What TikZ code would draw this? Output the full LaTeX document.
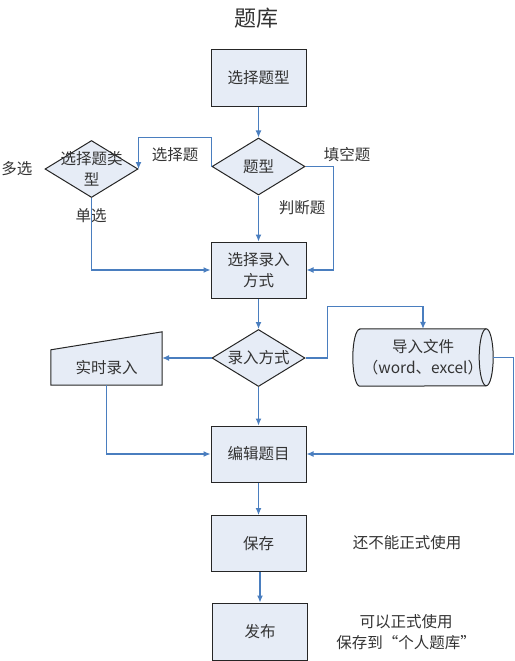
\documentclass[tikz,border=0pt]{standalone}
\usepackage{fontspec}
\setmainfont{Noto Sans CJK SC}
\usetikzlibrary{shapes.geometric,arrows.meta,calc,backgrounds}
\definecolor{boxfill}{HTML}{E6ECF6}
\definecolor{flowline}{HTML}{4A7EBF}

\begin{document}
\begin{tikzpicture}[x=1pt,y=-1pt,>={Latex[length=7pt,width=6pt]},
    every node/.style={font=\fontsize{15.5}{21}\selectfont,text=black!80},
    box/.style={draw=black!85,line width=1pt,fill=boxfill,minimum width=95pt,minimum height=56pt,align=center},
    decide/.style={diamond,draw=black!85,line width=1pt,fill=boxfill,aspect=1.6,inner sep=0pt,minimum width=93pt,minimum height=57pt},
    flow/.style={->,draw=flowline,line width=1.1pt}]
    \useasboundingbox (0,0) rectangle (514,661);

    \node[font=\fontsize{22}{24}\selectfont] (title) at (256,18) {题库};
    \node[box] (b1) at (258.5,78) {选择题型};
    \node[decide] (tx) at (258.5,166.5) {题型};
    \node[decide,label={[align=center]center:{选择题类\\型}}] (lx) at (91.5,169) {};
    \node[box] (b2) at (258.5,270) {选择录入\\方式};
    \node[decide] (rx) at (258.5,358) {录入方式};
    \node[minimum width=111pt,minimum height=35pt,inner sep=0pt] (mi) at (106.5,367.5) {实时录入};
    \node[minimum width=126pt,minimum height=57pt,inner sep=0pt,align=center] (imp) at (423,357.5) {导入文件\\（word、excel）};
    \node[box] (b3) at (258.5,454) {编辑题目};
    \node[box] (b4) at (258.5,543.5) {保存};
    \node[box,minimum height=57pt] (b5) at (260,631.5) {发布};

    \node (dx) at (17,169) {多选};
    \node (dan) at (91,216) {单选};
    \node (xz) at (175,155) {选择题};
    \node (tk) at (347,155) {填空题};
    \node (pd) at (302,208) {判断题};
    \node (warn) at (407,543) {还不能正式使用};
    \node[align=center] (pub) at (406,632) {可以正式使用\\保存到“个人题库”};

    \begin{scope}[on background layer]
      \draw[draw=black!85,line width=1pt,fill=boxfill] (mi.south west) -- (mi.north west)
        -- ($(mi.north east)+(0,-18)$) -- (mi.south east) -- cycle;
      \draw[draw=black!85,line width=1pt,fill=boxfill] (imp.north west) -- (imp.north east)
        arc[start angle=90,end angle=-90,x radius=7pt,y radius=28.5pt] -- (imp.south west)
        arc[start angle=270,end angle=90,x radius=7pt,y radius=28.5pt] -- cycle;
      \draw[black!85,line width=1pt] (imp.north east) arc[start angle=90,end angle=270,x radius=7pt,y radius=28.5pt];
    \end{scope}
    \coordinate (impend) at ($(imp.east)+(7,0)$);

    \draw[flow] (b1) -- (tx);
    \draw[flow] (tx.west) -- (tx.west |- tx.north) -| (lx.east);
    \draw[flow] (lx.south) |- (b2.west);
    \draw[flow] (tx.east) -- ++(28,0) |- (b2.east);
    \draw[flow] (tx) -- (b2);
    \draw[flow] (b2) -- (rx);
    \draw[flow] (rx.west) -- (rx.west -| mi.east);
    \draw[flow] (rx.east) -- ++(22,0) |- ($(imp.north)+(0,-22)$) -- (imp.north);
    \draw[flow] (impend) -- ++(20,0) |- (b3.east);
    \draw[flow] (mi.south) |- (b3.west);
    \draw[flow] (rx) -- (b3);
    \draw[flow] (b3) -- (b4);
    \draw[flow] (b4.south -| b5.north) -- (b5.north);
\end{tikzpicture}
\end{document}
